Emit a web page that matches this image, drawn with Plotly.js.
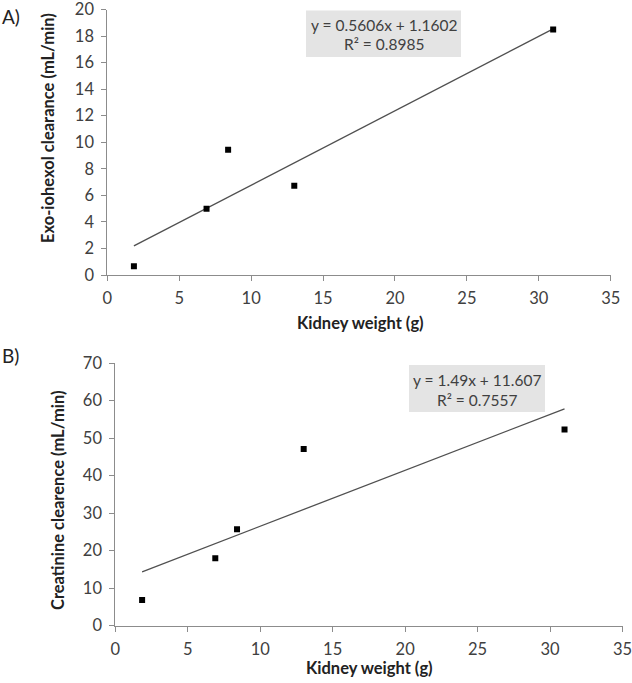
<!DOCTYPE html>
<html>
<head>
<meta charset="utf-8">
<script src="https://cdn.plot.ly/plotly-3.0.1.min.js"></script>
<style>html,body{margin:0;padding:0;background:#fff;}#chart{width:632px;height:683px;}</style>
</head>
<body>
<div id="chart"></div>
<script>
// ---- data ----
const kidneyWeight = [1.85, 6.9, 8.4, 13.0, 31.0];
const iohexolClearance = [0.65, 5.0, 9.43, 6.72, 18.49];
const creatinineClearance = [6.85, 17.95, 25.7, 47.1, 52.3];
const fitA = {slope: 0.5606, intercept: 1.1602, r2: 0.8985};
const fitB = {slope: 1.49, intercept: 11.607, r2: 0.7557};
const eqA = ["y = 0.5606x + 1.1602", "R² = 0.8985"];
const eqB = ["y = 1.49x + 11.607", "R² = 0.7557"];
const xTitle = "Kidney weight (g)";
const yTitleA = "Exo-iohexol clearance (mL/min)";
const yTitleB = "Creatinine clearence (mL/min)";

// ---- helpers ----
const W = 632, H = 683;
const px = x => x / W;
const py = y => 1 - y / H;
const xMin = Math.min(...kidneyWeight), xMax = Math.max(...kidneyWeight);
const lineX = [xMin, xMax];
const fitLine = f => lineX.map(x => f.slope * x + f.intercept);

const FONT = "Lato, 'Open Sans', sans-serif";
const TXT = "#404040";
const AX = "#8c8c8c";
const TICK_SIZE = 16.5;
const TITLE_SIZE = 16.5;
const EQ_SIZE = 15.5;

const traces = [
  {x: lineX, y: fitLine(fitA), mode: "lines", line: {color: "#505050", width: 1.3}, xaxis: "x", yaxis: "y", hoverinfo: "skip"},
  {x: kidneyWeight, y: iohexolClearance, mode: "markers", marker: {symbol: "square", size: 6, color: "#000"}, xaxis: "x", yaxis: "y"},
  {x: lineX, y: fitLine(fitB), mode: "lines", line: {color: "#505050", width: 1.3}, xaxis: "x2", yaxis: "y2", hoverinfo: "skip"},
  {x: kidneyWeight, y: creatinineClearance, mode: "markers", marker: {symbol: "square", size: 6, color: "#000"}, xaxis: "x2", yaxis: "y2"}
];

function xax(domain, anchor) {
  return {domain, anchor, range: [0, 35], tickmode: "linear", tick0: 0, dtick: 5,
    showgrid: false, zeroline: false, showline: true, linecolor: AX, linewidth: 1,
    ticks: "outside", ticklen: 5, tickcolor: AX, ticklabelstandoff: 3, ticklabeloverflow: "allow",
    tickfont: {family: FONT, size: TICK_SIZE, color: TXT}, fixedrange: true};
}
function yax(domain, anchor, max, dt) {
  return {domain, anchor, range: [0, max], tickmode: "linear", tick0: 0, dtick: dt,
    showgrid: false, zeroline: false, showline: true, linecolor: AX, linewidth: 1,
    ticks: "outside", ticklen: 5, tickcolor: AX, ticklabelstandoff: 4, ticklabeloverflow: "allow",
    tickfont: {family: FONT, size: TICK_SIZE, color: TXT}, fixedrange: true};
}

const layout = {
  width: W, height: H, showlegend: false,
  margin: {l: 0, r: 0, t: 0, b: 0},
  paper_bgcolor: "#fff", plot_bgcolor: "#fff",
  xaxis: xax([px(107.3), px(610.7)], "y"),
  yaxis: yax([py(275), py(9.5)], "x", 20, 2),
  xaxis2: xax([px(115.3), px(622.5)], "y2"),
  yaxis2: yax([py(625.7), py(363)], "x2", 70, 10),
  shapes: [
    {type: "rect", xref: "paper", yref: "paper", x0: px(306), x1: px(461), y0: py(57), y1: py(10.5), fillcolor: "#e4e4e4", line: {width: 0}, layer: "below"},
    {type: "rect", xref: "paper", yref: "paper", x0: px(409), x1: px(545), y0: py(412), y1: py(365), fillcolor: "#e4e4e4", line: {width: 0}, layer: "below"}
  ],
  annotations: [
    {text: "A)", xref: "paper", yref: "paper", x: px(0), y: py(16), xanchor: "left", yanchor: "middle", showarrow: false, font: {family: FONT, size: 19, color: "#222"}},
    {text: "B)", xref: "paper", yref: "paper", x: px(0), y: py(355), xanchor: "left", yanchor: "middle", showarrow: false, font: {family: FONT, size: 19, color: "#222"}},
    {text: eqA[0], xref: "paper", yref: "paper", x: px(383.5), y: py(25), xanchor: "center", yanchor: "middle", showarrow: false, font: {family: FONT, size: EQ_SIZE, color: TXT}},
    {text: eqA[1], xref: "paper", yref: "paper", x: px(383.5), y: py(44), xanchor: "center", yanchor: "middle", showarrow: false, font: {family: FONT, size: EQ_SIZE, color: TXT}},
    {text: eqB[0], xref: "paper", yref: "paper", x: px(477), y: py(380), xanchor: "center", yanchor: "middle", showarrow: false, font: {family: FONT, size: EQ_SIZE, color: TXT}},
    {text: eqB[1], xref: "paper", yref: "paper", x: px(477), y: py(400), xanchor: "center", yanchor: "middle", showarrow: false, font: {family: FONT, size: EQ_SIZE, color: TXT}},
    {text: "<b>" + xTitle + "</b>", xref: "paper", yref: "paper", x: px(360), y: py(323), xanchor: "center", yanchor: "middle", showarrow: false, font: {family: FONT, size: TITLE_SIZE, color: "#222"}},
    {text: "<b>" + xTitle + "</b>", xref: "paper", yref: "paper", x: px(369), y: py(668), xanchor: "center", yanchor: "middle", showarrow: false, font: {family: FONT, size: TITLE_SIZE, color: "#222"}},
    {text: "<b>" + yTitleA + "</b>", textangle: -90, xref: "paper", yref: "paper", x: px(48), y: py(128), xanchor: "center", yanchor: "middle", showarrow: false, font: {family: FONT, size: TITLE_SIZE, color: "#222"}},
    {text: "<b>" + yTitleB + "</b>", textangle: -90, xref: "paper", yref: "paper", x: px(58), y: py(501), xanchor: "center", yanchor: "middle", showarrow: false, font: {family: FONT, size: TITLE_SIZE, color: "#222"}}
  ]
};

Plotly.newPlot("chart", traces, layout, {displayModeBar: false, staticPlot: true});
</script>
</body>
</html>
